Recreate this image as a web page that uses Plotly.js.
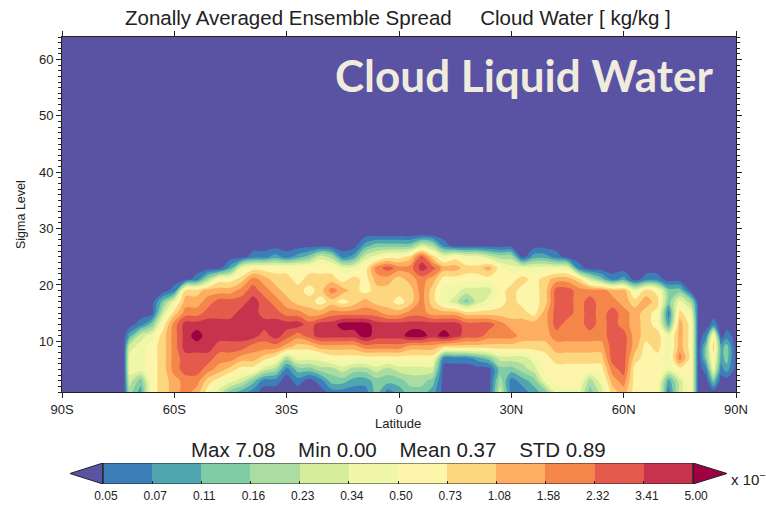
<!DOCTYPE html>
<html><head><meta charset="utf-8">
<script src="https://cdn.plot.ly/plotly-3.0.1.min.js"></script>
<style>html,body{margin:0;padding:0;background:#fff}#c{width:766px;height:505px}</style>
</head><body><div id="c"></div>
<script>
var levelLabels=['0.05','0.07','0.11','0.16','0.23','0.34','0.50','0.73','1.08','1.58','2.32','3.41','5.00'];
var bandColors=['#5A52A3','#3B7EB8','#4FA6B1','#80CDA5','#ABDDA2','#D6EE9B','#F0F8A8','#FDF5AA','#FDD780','#FDAE61','#F58649','#E45A4D','#C7324D','#9E0142'];
var sigmaLevels=[1,3,5,7,9,11,13,15,17,19,21,23,25,27,29,31,64];
var latTicks=[-90,-60,-30,0,30,60,90];
var latLabels=['90S','60S','30S','0','30N','60N','90N'];
var sigmaTicks=[10,20,30,40,50,60];
var latitudes=[-90,-87,-84,-81,-78,-73.5,-72,-69,-66,-63,-60,-57,-54,-51,-48,-45,-42,-39,-36,-33,-30,-27,-24,-21,-18,-15,-12,-9,-6,-3,0,3,6,9,12,15,18,21,24,27,30,33,36,39,42,45,48,51,54,57,60,63,66,69,72,75,78,80,82,84,86,87.5,90];
// spread class (index into the colour key) at each sigma level, one list per latitude
var bandsByLatitude=[[0],[0],[0],[0],[0],[0],
[4,5,6,6,5,2],[2,3,6,6,6,5,1],[7,7,7,7,7,6,3],[8,8,8,8,8,8,7,5,3],[9,9,10,10,10,10,10,8,6,1],
[10,10,11,11,12,12,12,10,9,8],[9,10,11,11,12,13,12,10,9,8,1],[7,8,10,11,12,12,12,11,10,9,4],[5,7,9,10,11,12,12,11,11,9,7],[3,6,8,10,11,12,12,11,11,9,7,2],
[2,5,7,9,11,12,12,12,11,10,8,6],[1,3,7,9,10,12,12,12,12,11,10,7,1],[0,1,5,8,10,11,12,11,11,10,9,7,1],[0,1,4,7,10,12,12,11,10,9,8,7,2],[0,0,1,4,9,11,12,10,9,8,8,7,1],
[0,1,3,6,8,10,12,10,8,8,7,7,2],[0,0,3,6,8,11,11,9,8,7,8,7,3],[0,1,4,6,9,12,12,9,7,8,8,7,5],[1,3,4,7,9,12,12,10,8,10,8,7,4],[1,3,5,7,9,12,13,10,7,9,7,6,1],
[1,2,4,7,9,12,13,10,8,8,8,6,2],[1,2,4,7,10,13,13,10,9,7,7,7,5,2],[3,3,5,7,10,12,12,10,8,8,9,10,6,3],[1,3,4,7,10,12,12,9,8,8,9,11,7,3],[2,3,5,7,10,12,12,9,7,8,8,10,7,3],
[3,4,5,7,9,13,12,10,8,8,9,10,8,3],[3,4,5,7,9,13,12,10,10,10,10,12,11,5],[2,3,5,7,9,12,12,9,8,8,9,11,8,4],[0,0,0,1,8,13,12,9,6,6,7,9,6,1],[0,0,0,1,8,12,12,9,5,6,7,9,7],
[0,0,0,1,8,11,11,8,3,5,7,8,6],[0,0,0,2,8,11,11,8,5,5,7,8,6],[0,0,0,3,8,10,11,8,6,5,7,9,5],[5,4,3,5,8,10,10,8,7,7,7,7,4],[1,1,3,5,8,10,9,8,8,8,7,6,4],
[1,2,4,5,8,9,9,8,7,7,8,6],[2,3,5,6,8,9,9,7,7,7,7,6,2],[3,6,7,7,8,9,9,9,8,8,8,6,2],[6,7,7,8,9,10,11,11,11,11,9,6,1],[6,7,7,8,9,10,10,11,11,11,9,6],
[6,7,7,8,9,10,10,10,10,10,8,1],[3,4,7,8,9,10,11,11,11,10,5],[5,6,7,8,9,10,10,10,10,10,3],[8,9,10,11,11,11,11,11,10,9,1],[9,10,11,11,11,11,10,10,9,9,2],
[7,7,7,8,9,9,9,9,8,6],[7,7,7,7,7,8,8,8,9,8,1],[7,7,7,7,8,8,7,7,8,7,1],[1,2,6,6,6,6,2,1,3,3],[5,5,7,10,9,9,9,8,6,3],
[7,7,7,7,7,7,7,6,4],[0],[0,0,1,3,3,1],[0,3,6,7,8,7,1],[0,0,1,2,2],[0,0,2,3,3,1],[0]];

var z=sigmaLevels.map(function(_,r){return bandsByLatitude.map(function(col){return col[r]||0;});});
var n=bandColors.length-1;
var smooth=bandColors.map(function(c,i){return [i/n,c];});
var stepped=[];bandColors.forEach(function(c,i){stepped.push([i/(n+1),c]);stepped.push([(i+1)/(n+1),c]);});
var keyCount=levelLabels.length-1;
var keyX=[],keyZ=[];for(var i=0;i<keyCount;i++){keyX.push(i+0.5);keyZ.push(i+1);}
var tipL=0.67,tipR=0.69;
var traces=[
 {type:'contour',x:latitudes,y:sigmaLevels,z:z,zmin:0,zmax:n,autocontour:false,colorscale:smooth,showscale:false,hoverinfo:'skip',
  contours:{start:0.5,end:n-0.5,size:1,coloring:'fill',showlines:false},line:{width:0,smoothing:1}},
 {type:'heatmap',x:keyX,y:[0],z:[keyZ],zmin:-0.5,zmax:n+0.5,colorscale:stepped,showscale:false,xaxis:'x2',yaxis:'y2',hoverinfo:'skip'},
 {type:'scatter',mode:'lines',x:[0,-tipL,0,0],y:[-0.5,0,0.5,-0.5],fill:'toself',fillcolor:bandColors[0],line:{color:'#222',width:1},xaxis:'x2',yaxis:'y2',hoverinfo:'skip'},
 {type:'scatter',mode:'lines',x:[keyCount,keyCount+tipR,keyCount,keyCount],y:[-0.5,0,0.5,-0.5],fill:'toself',fillcolor:bandColors[n],line:{color:'#222',width:1},xaxis:'x2',yaxis:'y2',hoverinfo:'skip'},
 {type:'scatter',mode:'lines',x:[0,keyCount,keyCount,0,0],y:[-0.5,-0.5,0.5,0.5,-0.5],line:{color:'#222',width:1},xaxis:'x2',yaxis:'y2',hoverinfo:'skip'}
];
function note(text,x,y,size,extra){var a={text:text,xref:'paper',yref:'paper',x:x/766,y:1-y/505,xanchor:'center',yanchor:'middle',showarrow:false,font:{family:'"Liberation Sans",Arial,sans-serif',size:size,color:'#222'}};for(var k in extra)a[k]=extra[k];return a;}
var layout={width:766,height:505,margin:{l:0,r:0,t:0,b:0},paper_bgcolor:'#fff',plot_bgcolor:'#fff',showlegend:false,
 font:{family:'"Liberation Sans",Arial,sans-serif',color:'#222',size:13},
 xaxis:{domain:[62/766,736/766],range:[-90,90],tickvals:latTicks,ticktext:latLabels,ticks:'outside',ticklen:5,tickcolor:'#222',showline:true,linecolor:'#222',linewidth:1,mirror:'ticks',showgrid:false,zeroline:false,tickfont:{size:13},anchor:'y'},
 yaxis:{domain:[1-392/505,1-37/505],range:[1,64],tickvals:sigmaTicks,ticks:'outside',ticklen:5,tickcolor:'#222',minor:{dtick:1,tick0:0,ticks:'outside',ticklen:3,tickcolor:'#222',showgrid:false},showline:true,linecolor:'#222',linewidth:1,mirror:'ticks',showgrid:false,zeroline:false,tickfont:{size:13},anchor:'x'},
 xaxis2:{domain:[70/766,727/766],range:[-tipL,keyCount+tipR],tickvals:levelLabels.map(function(_,i){return i;}),ticktext:levelLabels,ticks:'inside',ticklen:3,tickcolor:'#222',showline:false,showgrid:false,zeroline:false,tickfont:{size:12},anchor:'y2',ticklabelstandoff:3,ticklabelshift:3},
 yaxis2:{domain:[1-484/505,1-463/505],range:[-0.5,0.5],visible:false,anchor:'x2'},
 annotations:[
  note('Zonally Averaged Ensemble Spread&nbsp;&nbsp;&nbsp;&nbsp;&nbsp;Cloud Water [ kg/kg ]',398,17,20.5),
  note('Cloud Liquid Water',524,75,44,{font:{family:'Lato,"Open Sans",sans-serif',size:44,color:'#EFEBDD',weight:700}}),
  note('Sigma Level',21,215,12.5,{textangle:-90}),
  note('Latitude',398,423,13),
  note('Max 7.08&nbsp;&nbsp;&nbsp;&nbsp;Min 0.00&nbsp;&nbsp;&nbsp;&nbsp;Mean 0.37&nbsp;&nbsp;&nbsp;&nbsp;STD 0.89',398,449,20.5),
  note('x 10<sup>−</sup>',748,478,15)
 ]};
Plotly.newPlot('c',traces,layout,{displayModeBar:false,staticPlot:true});
</script></body></html>
